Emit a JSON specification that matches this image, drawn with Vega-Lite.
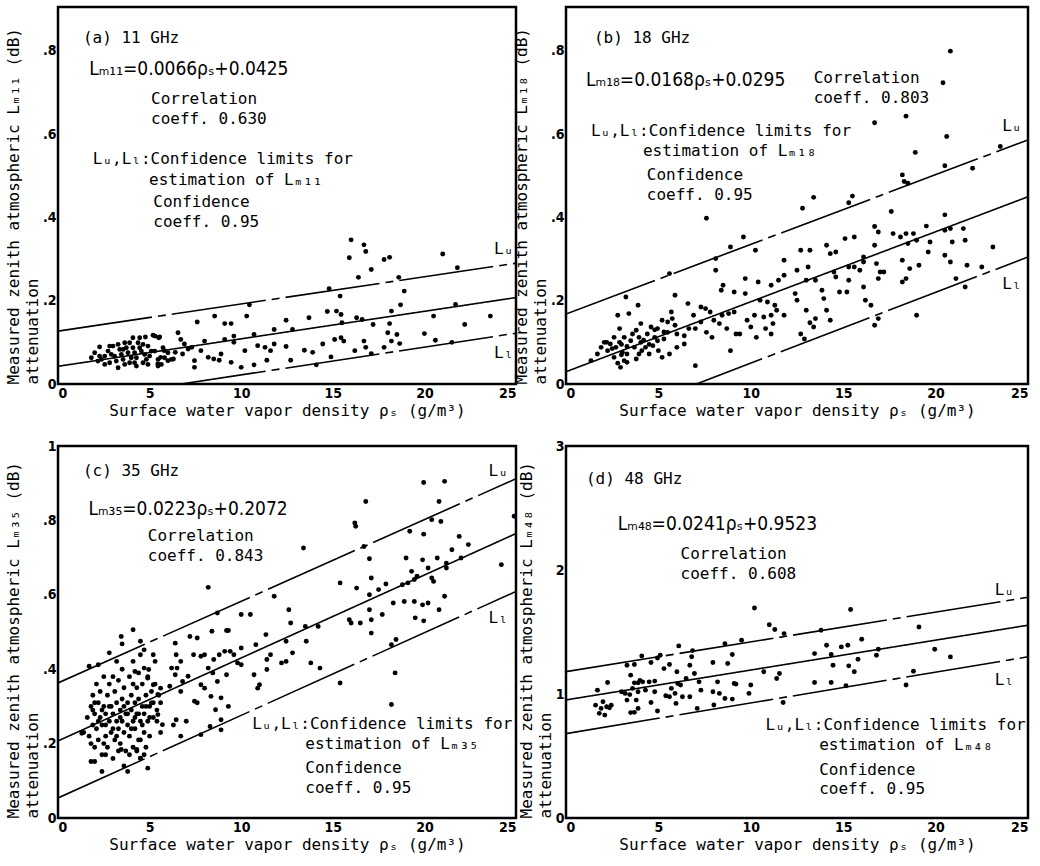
{
"$schema":"https://vega.github.io/schema/vega-lite/v6.json",
"background":"white",
"padding":{"left":4,"top":5,"right":4,"bottom":4},
"config":{
 "view":{"stroke":"black","strokeWidth":2.5},
 "axis":{"domain":false,"grid":false,"ticks":false,"labelColor":"black","labelFont":"DejaVu Sans Condensed","labelFontWeight":"bold","labelFontSize":14,"titleFont":"DejaVu Sans Mono","titleFontSize":16,"titleFontWeight":"normal","titleColor":"black"},
 "text":{"font":"DejaVu Sans Mono","fontSize":16,"color":"black"}
},
"datasets":{
"xt":[{"v":0,"l":"maj"},{"v":1,"l":"min"},{"v":2,"l":"min"},{"v":3,"l":"min"},{"v":4,"l":"min"},{"v":5,"l":"maj"},{"v":6,"l":"min"},{"v":7,"l":"min"},{"v":8,"l":"min"},{"v":9,"l":"min"},{"v":10,"l":"maj"},{"v":11,"l":"min"},{"v":12,"l":"min"},{"v":13,"l":"min"},{"v":14,"l":"min"},{"v":15,"l":"maj"},{"v":16,"l":"min"},{"v":17,"l":"min"},{"v":18,"l":"min"},{"v":19,"l":"min"},{"v":20,"l":"maj"},{"v":21,"l":"min"},{"v":22,"l":"min"},{"v":23,"l":"min"},{"v":24,"l":"min"},{"v":25,"l":"maj"}],
"yt":[
{"g":"ab","v":0,"l":"maj"},{"g":"ab","v":0.02,"l":"min"},{"g":"ab","v":0.04,"l":"min"},{"g":"ab","v":0.06,"l":"min"},{"g":"ab","v":0.08,"l":"min"},{"g":"ab","v":0.1,"l":"mid"},{"g":"ab","v":0.12,"l":"min"},{"g":"ab","v":0.14,"l":"min"},{"g":"ab","v":0.16,"l":"min"},{"g":"ab","v":0.18,"l":"min"},{"g":"ab","v":0.2,"l":"maj"},{"g":"ab","v":0.22,"l":"min"},{"g":"ab","v":0.24,"l":"min"},{"g":"ab","v":0.26,"l":"min"},{"g":"ab","v":0.28,"l":"min"},{"g":"ab","v":0.3,"l":"mid"},{"g":"ab","v":0.32,"l":"min"},{"g":"ab","v":0.34,"l":"min"},{"g":"ab","v":0.36,"l":"min"},{"g":"ab","v":0.38,"l":"min"},{"g":"ab","v":0.4,"l":"maj"},{"g":"ab","v":0.42,"l":"min"},{"g":"ab","v":0.44,"l":"min"},{"g":"ab","v":0.46,"l":"min"},{"g":"ab","v":0.48,"l":"min"},{"g":"ab","v":0.5,"l":"mid"},{"g":"ab","v":0.52,"l":"min"},{"g":"ab","v":0.54,"l":"min"},{"g":"ab","v":0.56,"l":"min"},{"g":"ab","v":0.58,"l":"min"},{"g":"ab","v":0.6,"l":"maj"},{"g":"ab","v":0.62,"l":"min"},{"g":"ab","v":0.64,"l":"min"},{"g":"ab","v":0.66,"l":"min"},{"g":"ab","v":0.68,"l":"min"},{"g":"ab","v":0.7,"l":"mid"},{"g":"ab","v":0.72,"l":"min"},{"g":"ab","v":0.74,"l":"min"},{"g":"ab","v":0.76,"l":"min"},{"g":"ab","v":0.78,"l":"min"},{"g":"ab","v":0.8,"l":"maj"},{"g":"ab","v":0.82,"l":"min"},{"g":"ab","v":0.84,"l":"min"},{"g":"ab","v":0.86,"l":"min"},{"g":"ab","v":0.88,"l":"min"},{"g":"ab","v":0.9,"l":"mid"},
{"g":"c","v":0,"l":"maj"},{"g":"c","v":0.02,"l":"min"},{"g":"c","v":0.04,"l":"min"},{"g":"c","v":0.06,"l":"min"},{"g":"c","v":0.08,"l":"min"},{"g":"c","v":0.1,"l":"mid"},{"g":"c","v":0.12,"l":"min"},{"g":"c","v":0.14,"l":"min"},{"g":"c","v":0.16,"l":"min"},{"g":"c","v":0.18,"l":"min"},{"g":"c","v":0.2,"l":"maj"},{"g":"c","v":0.22,"l":"min"},{"g":"c","v":0.24,"l":"min"},{"g":"c","v":0.26,"l":"min"},{"g":"c","v":0.28,"l":"min"},{"g":"c","v":0.3,"l":"mid"},{"g":"c","v":0.32,"l":"min"},{"g":"c","v":0.34,"l":"min"},{"g":"c","v":0.36,"l":"min"},{"g":"c","v":0.38,"l":"min"},{"g":"c","v":0.4,"l":"maj"},{"g":"c","v":0.42,"l":"min"},{"g":"c","v":0.44,"l":"min"},{"g":"c","v":0.46,"l":"min"},{"g":"c","v":0.48,"l":"min"},{"g":"c","v":0.5,"l":"mid"},{"g":"c","v":0.52,"l":"min"},{"g":"c","v":0.54,"l":"min"},{"g":"c","v":0.56,"l":"min"},{"g":"c","v":0.58,"l":"min"},{"g":"c","v":0.6,"l":"maj"},{"g":"c","v":0.62,"l":"min"},{"g":"c","v":0.64,"l":"min"},{"g":"c","v":0.66,"l":"min"},{"g":"c","v":0.68,"l":"min"},{"g":"c","v":0.7,"l":"mid"},{"g":"c","v":0.72,"l":"min"},{"g":"c","v":0.74,"l":"min"},{"g":"c","v":0.76,"l":"min"},{"g":"c","v":0.78,"l":"min"},{"g":"c","v":0.8,"l":"maj"},{"g":"c","v":0.82,"l":"min"},{"g":"c","v":0.84,"l":"min"},{"g":"c","v":0.86,"l":"min"},{"g":"c","v":0.88,"l":"min"},{"g":"c","v":0.9,"l":"mid"},{"g":"c","v":0.92,"l":"min"},{"g":"c","v":0.94,"l":"min"},{"g":"c","v":0.96,"l":"min"},{"g":"c","v":0.98,"l":"min"},{"g":"c","v":1,"l":"maj"},
{"g":"d","v":0,"l":"maj"},{"g":"d","v":0.1,"l":"min"},{"g":"d","v":0.2,"l":"min"},{"g":"d","v":0.3,"l":"min"},{"g":"d","v":0.4,"l":"min"},{"g":"d","v":0.5,"l":"mid"},{"g":"d","v":0.6,"l":"min"},{"g":"d","v":0.7,"l":"min"},{"g":"d","v":0.8,"l":"min"},{"g":"d","v":0.9,"l":"min"},{"g":"d","v":1,"l":"maj"},{"g":"d","v":1.1,"l":"min"},{"g":"d","v":1.2,"l":"min"},{"g":"d","v":1.3,"l":"min"},{"g":"d","v":1.4,"l":"min"},{"g":"d","v":1.5,"l":"mid"},{"g":"d","v":1.6,"l":"min"},{"g":"d","v":1.7,"l":"min"},{"g":"d","v":1.8,"l":"min"},{"g":"d","v":1.9,"l":"min"},{"g":"d","v":2,"l":"maj"},{"g":"d","v":2.1,"l":"min"},{"g":"d","v":2.2,"l":"min"},{"g":"d","v":2.3,"l":"min"},{"g":"d","v":2.4,"l":"min"},{"g":"d","v":2.5,"l":"mid"},{"g":"d","v":2.6,"l":"min"},{"g":"d","v":2.7,"l":"min"},{"g":"d","v":2.8,"l":"min"},{"g":"d","v":2.9,"l":"min"},{"g":"d","v":3,"l":"maj"}
],
"pts":[
{"p":"a","x":16.0,"y":0.346},{"p":"a","x":16.7,"y":0.334},{"p":"a","x":16.8,"y":0.318},{"p":"a","x":15.9,"y":0.303},{"p":"a","x":17.8,"y":0.299},{"p":"a","x":18.1,"y":0.304},{"p":"a","x":21.0,"y":0.312},{"p":"a","x":17.1,"y":0.275},{"p":"a","x":16.4,"y":0.256},{"p":"a","x":18.6,"y":0.256},{"p":"a","x":21.8,"y":0.279},{"p":"a","x":14.8,"y":0.229},{"p":"a","x":15.4,"y":0.211},{"p":"a","x":18.9,"y":0.223},{"p":"a","x":18.7,"y":0.19},{"p":"a","x":21.7,"y":0.191},{"p":"a","x":14.7,"y":0.174},{"p":"a","x":15.2,"y":0.175},{"p":"a","x":15.45,"y":0.167},{"p":"a","x":10.45,"y":0.19},{"p":"a","x":12.45,"y":0.153},{"p":"a","x":13.7,"y":0.159},{"p":"a","x":16.3,"y":0.159},{"p":"a","x":16.6,"y":0.155},{"p":"a","x":15.5,"y":0.147},{"p":"a","x":17.2,"y":0.143},{"p":"a","x":18.2,"y":0.175},{"p":"a","x":18.1,"y":0.145},{"p":"a","x":20.5,"y":0.163},{"p":"a","x":23.6,"y":0.163},{"p":"a","x":22.2,"y":0.143},{"p":"a","x":20.0,"y":0.121},{"p":"a","x":20.6,"y":0.105},{"p":"a","x":21.5,"y":0.1},{"p":"a","x":18.0,"y":0.123},{"p":"a","x":18.5,"y":0.119},{"p":"a","x":18.2,"y":0.103},{"p":"a","x":18.65,"y":0.097},{"p":"a","x":17.8,"y":0.088},{"p":"a","x":17.1,"y":0.073},{"p":"a","x":16.7,"y":0.103},{"p":"a","x":16.8,"y":0.088},{"p":"a","x":16.2,"y":0.08},{"p":"a","x":15.45,"y":0.111},{"p":"a","x":15.6,"y":0.103},{"p":"a","x":15.1,"y":0.107},{"p":"a","x":14.9,"y":0.065},{"p":"a","x":14.45,"y":0.096},{"p":"a","x":14.1,"y":0.046},{"p":"a","x":13.9,"y":0.076},{"p":"a","x":13.45,"y":0.081},{"p":"a","x":12.7,"y":0.057},{"p":"a","x":12.8,"y":0.131},{"p":"a","x":12.45,"y":0.09},{"p":"a","x":11.8,"y":0.131},{"p":"a","x":11.8,"y":0.096},{"p":"a","x":11.6,"y":0.08},{"p":"a","x":11.4,"y":0.057},{"p":"a","x":10.7,"y":0.119},{"p":"a","x":10.9,"y":0.092},{"p":"a","x":11.3,"y":0.088},{"p":"a","x":10.7,"y":0.046},{"p":"a","x":10.3,"y":0.163},{"p":"a","x":10.2,"y":0.08},{"p":"a","x":10.0,"y":0.04},{"p":"a","x":9.6,"y":0.115},{"p":"a","x":9.6,"y":0.1},{"p":"a","x":9.45,"y":0.145},{"p":"a","x":9.1,"y":0.145},{"p":"a","x":8.55,"y":0.163},{"p":"a","x":7.6,"y":0.149},{"p":"a","x":9.1,"y":0.107},{"p":"a","x":9.45,"y":0.052},{"p":"a","x":8.9,"y":0.072},{"p":"a","x":8.5,"y":0.06},{"p":"a","x":8.2,"y":0.064},{"p":"a","x":8.8,"y":0.057},{"p":"a","x":8.0,"y":0.103},{"p":"a","x":7.8,"y":0.08},{"p":"a","x":7.45,"y":0.056},{"p":"a","x":7.45,"y":0.04},{"p":"a","x":6.9,"y":0.096},{"p":"a","x":7.1,"y":0.084},{"p":"a","x":7.3,"y":0.088},{"p":"a","x":6.8,"y":0.072},{"p":"a","x":6.55,"y":0.123},{"p":"a","x":6.7,"y":0.107},{"p":"a","x":6.4,"y":0.076},{"p":"a","x":6.3,"y":0.06},{"p":"a","x":5.8,"y":0.08},{"p":"a","x":5.6,"y":0.064},{"p":"a","x":5.45,"y":0.048},{"p":"a","x":6.0,"y":0.056},{"p":"a","x":5.3,"y":0.115},{"p":"a","x":5.5,"y":0.111},
{"p":"a","x":1.82,"y":0.063},{"p":"a","x":2.27,"y":0.089},{"p":"a","x":2.37,"y":0.059},{"p":"a","x":2.73,"y":0.079},{"p":"a","x":2.82,"y":0.051},{"p":"a","x":3.0,"y":0.091},{"p":"a","x":3.09,"y":0.067},{"p":"a","x":3.28,"y":0.039},{"p":"a","x":3.37,"y":0.083},{"p":"a","x":3.55,"y":0.059},{"p":"a","x":3.64,"y":0.099},{"p":"a","x":3.82,"y":0.075},{"p":"a","x":3.91,"y":0.051},{"p":"a","x":4.09,"y":0.111},{"p":"a","x":4.09,"y":0.087},{"p":"a","x":4.28,"y":0.063},{"p":"a","x":4.37,"y":0.099},{"p":"a","x":4.55,"y":0.079},{"p":"a","x":4.64,"y":0.051},{"p":"a","x":4.77,"y":0.113},{"p":"a","x":4.91,"y":0.091},{"p":"a","x":5.0,"y":0.067},{"p":"a","x":5.19,"y":0.117},{"p":"a","x":5.28,"y":0.079},{"p":"a","x":5.46,"y":0.059},{"p":"a","x":5.55,"y":0.113},{"p":"a","x":5.73,"y":0.087},{"p":"a","x":5.82,"y":0.063},{"p":"a","x":6.0,"y":0.075},{"p":"a","x":6.19,"y":0.059},{"p":"a","x":2.0,"y":0.075},{"p":"a","x":2.55,"y":0.067},{"p":"a","x":2.91,"y":0.071},{"p":"a","x":3.46,"y":0.071},{"p":"a","x":3.73,"y":0.087},{"p":"a","x":4.0,"y":0.063},{"p":"a","x":4.18,"y":0.075},{"p":"a","x":4.46,"y":0.087},{"p":"a","x":4.73,"y":0.071},{"p":"a","x":4.82,"y":0.059},{"p":"a","x":5.09,"y":0.079},{"p":"a","x":3.28,"y":0.095},{"p":"a","x":3.91,"y":0.099},{"p":"a","x":4.46,"y":0.111},{"p":"a","x":2.55,"y":0.047},{"p":"a","x":3.64,"y":0.047},{"p":"a","x":4.28,"y":0.043},{"p":"a","x":2.18,"y":0.055},{"p":"a","x":5.46,"y":0.043},{"p":"a","x":5.64,"y":0.047},{"p":"a","x":3.18,"y":0.055},{"p":"a","x":4.64,"y":0.095},{"p":"a","x":3.55,"y":0.083},{"p":"a","x":4.18,"y":0.051},{"p":"a","x":4.91,"y":0.047},{"p":"a","x":2.82,"y":0.091},{"p":"a","x":2.27,"y":0.067},
{"p":"b","x":20.8,"y":0.799},{"p":"b","x":20.4,"y":0.723},{"p":"b","x":16.7,"y":0.627},{"p":"b","x":18.4,"y":0.643},{"p":"b","x":20.6,"y":0.594},{"p":"b","x":18.9,"y":0.556},{"p":"b","x":23.5,"y":0.57},{"p":"b","x":20.5,"y":0.524},{"p":"b","x":22.0,"y":0.518},{"p":"b","x":18.2,"y":0.502},{"p":"b","x":18.3,"y":0.486},{"p":"b","x":18.5,"y":0.482},{"p":"b","x":15.5,"y":0.451},{"p":"b","x":15.3,"y":0.435},{"p":"b","x":13.4,"y":0.448},{"p":"b","x":12.8,"y":0.422},{"p":"b","x":7.6,"y":0.398},{"p":"b","x":17.6,"y":0.414},{"p":"b","x":20.5,"y":0.406},{"p":"b","x":16.7,"y":0.378},{"p":"b","x":16.9,"y":0.365},{"p":"b","x":17.7,"y":0.361},{"p":"b","x":18.1,"y":0.353},{"p":"b","x":18.4,"y":0.361},{"p":"b","x":18.8,"y":0.361},{"p":"b","x":18.97,"y":0.345},{"p":"b","x":18.5,"y":0.337},{"p":"b","x":19.5,"y":0.379},{"p":"b","x":20.5,"y":0.369},{"p":"b","x":20.8,"y":0.373},{"p":"b","x":20.9,"y":0.341},{"p":"b","x":21.5,"y":0.373},{"p":"b","x":21.6,"y":0.345},{"p":"b","x":19.7,"y":0.341},{"p":"b","x":23.1,"y":0.329},{"p":"b","x":19.6,"y":0.317},{"p":"b","x":20.5,"y":0.309},{"p":"b","x":20.8,"y":0.293},{"p":"b","x":21.7,"y":0.285},{"p":"b","x":22.5,"y":0.281},{"p":"b","x":18.2,"y":0.297},{"p":"b","x":19.1,"y":0.285},{"p":"b","x":18.6,"y":0.277},{"p":"b","x":21.1,"y":0.253},{"p":"b","x":21.6,"y":0.233},{"p":"b","x":18.4,"y":0.253},{"p":"b","x":18.2,"y":0.245},{"p":"b","x":18.97,"y":0.165},{"p":"b","x":16.7,"y":0.141},{"p":"b","x":16.9,"y":0.157},{"p":"b","x":16.5,"y":0.189},{"p":"b","x":16.2,"y":0.201},{"p":"b","x":16.1,"y":0.233},{"p":"b","x":16.8,"y":0.289},{"p":"b","x":17.0,"y":0.269},{"p":"b","x":17.2,"y":0.269},{"p":"b","x":16.9,"y":0.253},{"p":"b","x":15.9,"y":0.273},{"p":"b","x":16.1,"y":0.293},{"p":"b","x":15.6,"y":0.281},{"p":"b","x":15.3,"y":0.281},{"p":"b","x":14.8,"y":0.221},{"p":"b","x":15.2,"y":0.221},{"p":"b","x":15.3,"y":0.249},{"p":"b","x":14.6,"y":0.257},{"p":"b","x":14.5,"y":0.269},{"p":"b","x":14.3,"y":0.313},{"p":"b","x":14.6,"y":0.317},{"p":"b","x":14.1,"y":0.333},{"p":"b","x":15.1,"y":0.349},{"p":"b","x":15.6,"y":0.353},{"p":"b","x":16.7,"y":0.333},{"p":"b","x":16.1,"y":0.305},{"p":"b","x":13.2,"y":0.321},{"p":"b","x":12.7,"y":0.321},{"p":"b","x":13.1,"y":0.281},{"p":"b","x":12.5,"y":0.273},{"p":"b","x":13.0,"y":0.249},{"p":"b","x":13.5,"y":0.249},{"p":"b","x":13.85,"y":0.225},{"p":"b","x":13.95,"y":0.205},{"p":"b","x":14.1,"y":0.177},{"p":"b","x":14.3,"y":0.153},{"p":"b","x":13.5,"y":0.157},{"p":"b","x":13.4,"y":0.137},{"p":"b","x":13.2,"y":0.147},{"p":"b","x":12.7,"y":0.12},{"p":"b","x":12.9,"y":0.108},{"p":"b","x":13.0,"y":0.177},{"p":"b","x":12.4,"y":0.217},{"p":"b","x":12.5,"y":0.201},{"p":"b","x":11.8,"y":0.297},{"p":"b","x":11.8,"y":0.261},{"p":"b","x":11.5,"y":0.249},{"p":"b","x":11.1,"y":0.237},{"p":"b","x":10.25,"y":0.321},{"p":"b","x":9.6,"y":0.353},{"p":"b","x":9.7,"y":0.253},{"p":"b","x":10.4,"y":0.245},{"p":"b","x":8.9,"y":0.329},{"p":"b","x":8.1,"y":0.301},{"p":"b","x":8.1,"y":0.273},{"p":"b","x":8.5,"y":0.237},{"p":"b","x":8.4,"y":0.225},{"p":"b","x":9.1,"y":0.221},{"p":"b","x":9.7,"y":0.217},{"p":"b","x":10.5,"y":0.201},{"p":"b","x":10.9,"y":0.197},{"p":"b","x":11.3,"y":0.189},{"p":"b","x":11.4,"y":0.177},{"p":"b","x":11.8,"y":0.165},{"p":"b","x":11.1,"y":0.165},{"p":"b","x":11.2,"y":0.145},{"p":"b","x":10.7,"y":0.161},{"p":"b","x":10.2,"y":0.165},{"p":"b","x":9.8,"y":0.153},{"p":"b","x":10.0,"y":0.137},{"p":"b","x":10.8,"y":0.133},{"p":"b","x":11.1,"y":0.12},{"p":"b","x":10.3,"y":0.112},{"p":"b","x":9.4,"y":0.12},{"p":"b","x":9.2,"y":0.12},{"p":"b","x":8.9,"y":0.08},{"p":"b","x":8.7,"y":0.133},{"p":"b","x":9.1,"y":0.173},{"p":"b","x":8.8,"y":0.169},{"p":"b","x":8.45,"y":0.165},{"p":"b","x":7.8,"y":0.173},{"p":"b","x":7.55,"y":0.181},{"p":"b","x":7.3,"y":0.185},{"p":"b","x":8.0,"y":0.153},{"p":"b","x":8.3,"y":0.145},{"p":"b","x":7.6,"y":0.124},{"p":"b","x":7.9,"y":0.112},{"p":"b","x":7.3,"y":0.149},{"p":"b","x":7.0,"y":0.133},{"p":"b","x":7.0,"y":0.044},{"p":"b","x":6.6,"y":0.193},{"p":"b","x":6.9,"y":0.165},{"p":"b","x":6.65,"y":0.133},{"p":"b","x":6.4,"y":0.116},{"p":"b","x":5.9,"y":0.213},{"p":"b","x":5.7,"y":0.173},{"p":"b","x":5.75,"y":0.157},{"p":"b","x":5.6,"y":0.265},{"p":"b","x":5.9,"y":0.141},{"p":"b","x":6.0,"y":0.12},{"p":"b","x":5.5,"y":0.124},{"p":"b","x":5.3,"y":0.108},{"p":"b","x":5.2,"y":0.153},{"p":"b","x":4.95,"y":0.133},{"p":"b","x":4.8,"y":0.112},{"p":"b","x":4.7,"y":0.092},{"p":"b","x":4.6,"y":0.137},{"p":"b","x":4.4,"y":0.12},{"p":"b","x":5.0,"y":0.08},{"p":"b","x":4.3,"y":0.088},{"p":"b","x":4.05,"y":0.145},{"p":"b","x":3.8,"y":0.129},{"p":"b","x":3.95,"y":0.112},{"p":"b","x":3.5,"y":0.104},{"p":"b","x":3.7,"y":0.088},{"p":"b","x":3.3,"y":0.072},{"p":"b","x":3.15,"y":0.056},{"p":"b","x":2.95,"y":0.04},{"p":"b","x":3.05,"y":0.076},{"p":"b","x":2.9,"y":0.133},{"p":"b","x":2.8,"y":0.165},{"p":"b","x":3.24,"y":0.209},{"p":"b","x":3.9,"y":0.189},{"p":"b","x":3.4,"y":0.169},{"p":"b","x":2.6,"y":0.112},{"p":"b","x":2.4,"y":0.096},{"p":"b","x":2.25,"y":0.08},{"p":"b","x":2.07,"y":0.1},{"p":"b","x":1.9,"y":0.088},{"p":"b","x":1.7,"y":0.072},{"p":"b","x":1.35,"y":0.056},{"p":"b","x":2.7,"y":0.088},{"p":"b","x":2.9,"y":0.1},{"p":"b","x":3.15,"y":0.112},{"p":"b","x":2.6,"y":0.064},{"p":"b","x":3.3,"y":0.052},{"p":"b","x":3.95,"y":0.072},{"p":"b","x":4.5,"y":0.072},{"p":"b","x":5.2,"y":0.064},{"p":"b","x":5.6,"y":0.072},{"p":"b","x":6.0,"y":0.088},{"p":"b","x":6.4,"y":0.096},{"p":"b","x":4.05,"y":0.1},{"p":"b","x":4.95,"y":0.104},{"p":"b","x":5.5,"y":0.149},{"p":"b","x":2.2,"y":0.1},{"p":"b","x":2.5,"y":0.085},{"p":"b","x":3.0,"y":0.095},{"p":"b","x":3.3,"y":0.09},{"p":"b","x":3.6,"y":0.12},{"p":"b","x":4.2,"y":0.105},{"p":"b","x":4.5,"y":0.095},{"p":"b","x":4.8,"y":0.13},{"p":"b","x":5.3,"y":0.125},{"p":"b","x":3.0,"y":0.07},{"p":"b","x":2.8,"y":0.05},{"p":"b","x":3.8,"y":0.06},{"p":"b","x":4.1,"y":0.08},
{"p":"c","x":19.96,"y":0.902},{"p":"c","x":21.1,"y":0.905},{"p":"c","x":16.8,"y":0.851},{"p":"c","x":20.8,"y":0.851},{"p":"c","x":16.2,"y":0.793},{"p":"c","x":16.25,"y":0.784},{"p":"c","x":20.4,"y":0.802},{"p":"c","x":20.9,"y":0.797},{"p":"c","x":24.9,"y":0.811},{"p":"c","x":16.7,"y":0.73},{"p":"c","x":13.4,"y":0.726},{"p":"c","x":19.2,"y":0.771},{"p":"c","x":19.96,"y":0.763},{"p":"c","x":21.9,"y":0.757},{"p":"c","x":22.4,"y":0.735},{"p":"c","x":21.5,"y":0.721},{"p":"c","x":17.0,"y":0.697},{"p":"c","x":19.0,"y":0.699},{"p":"c","x":19.9,"y":0.694},{"p":"c","x":20.7,"y":0.699},{"p":"c","x":21.2,"y":0.685},{"p":"c","x":22.0,"y":0.699},{"p":"c","x":24.2,"y":0.681},{"p":"c","x":19.3,"y":0.663},{"p":"c","x":20.2,"y":0.672},{"p":"c","x":21.2,"y":0.672},{"p":"c","x":17.1,"y":0.645},{"p":"c","x":19.6,"y":0.65},{"p":"c","x":20.4,"y":0.645},{"p":"c","x":15.4,"y":0.632},{"p":"c","x":16.3,"y":0.618},{"p":"c","x":17.9,"y":0.629},{"p":"c","x":17.5,"y":0.614},{"p":"c","x":17.0,"y":0.6},{"p":"c","x":18.8,"y":0.627},{"p":"c","x":19.1,"y":0.632},{"p":"c","x":19.45,"y":0.641},{"p":"c","x":20.5,"y":0.636},{"p":"c","x":18.9,"y":0.582},{"p":"c","x":19.45,"y":0.582},{"p":"c","x":21.1,"y":0.596},{"p":"c","x":18.3,"y":0.578},{"p":"c","x":19.9,"y":0.573},{"p":"c","x":20.2,"y":0.578},{"p":"c","x":20.8,"y":0.56},{"p":"c","x":17.0,"y":0.56},{"p":"c","x":17.7,"y":0.547},{"p":"c","x":19.5,"y":0.538},{"p":"c","x":19.96,"y":0.53},{"p":"c","x":15.9,"y":0.533},{"p":"c","x":16.0,"y":0.524},{"p":"c","x":16.5,"y":0.524},{"p":"c","x":17.1,"y":0.533},{"p":"c","x":17.1,"y":0.497},{"p":"c","x":11.8,"y":0.596},{"p":"c","x":12.6,"y":0.56},{"p":"c","x":12.7,"y":0.524},{"p":"c","x":10.0,"y":0.547},{"p":"c","x":10.5,"y":0.547},{"p":"c","x":8.2,"y":0.62},{"p":"c","x":8.7,"y":0.551},{"p":"c","x":9.2,"y":0.504},{"p":"c","x":9.3,"y":0.504},{"p":"c","x":8.4,"y":0.502},{"p":"c","x":13.5,"y":0.515},{"p":"c","x":14.2,"y":0.515},{"p":"c","x":13.55,"y":0.475},{"p":"c","x":11.35,"y":0.493},{"p":"c","x":10.8,"y":0.466},{"p":"c","x":10.0,"y":0.457},{"p":"c","x":9.6,"y":0.439},{"p":"c","x":12.45,"y":0.475},{"p":"c","x":12.8,"y":0.444},{"p":"c","x":13.8,"y":0.417},{"p":"c","x":14.3,"y":0.403},{"p":"c","x":12.45,"y":0.421},{"p":"c","x":12.2,"y":0.417},{"p":"c","x":11.6,"y":0.439},{"p":"c","x":11.4,"y":0.426},{"p":"c","x":11.4,"y":0.399},{"p":"c","x":10.7,"y":0.385},{"p":"c","x":10.9,"y":0.349},{"p":"c","x":11.0,"y":0.358},{"p":"c","x":10.0,"y":0.412},{"p":"c","x":9.8,"y":0.417},{"p":"c","x":9.2,"y":0.385},{"p":"c","x":9.4,"y":0.448},{"p":"c","x":9.1,"y":0.448},{"p":"c","x":8.8,"y":0.439},{"p":"c","x":8.5,"y":0.426},{"p":"c","x":8.0,"y":0.439},{"p":"c","x":7.8,"y":0.435},{"p":"c","x":7.6,"y":0.484},{"p":"c","x":7.2,"y":0.488},{"p":"c","x":7.4,"y":0.439},{"p":"c","x":8.2,"y":0.403},{"p":"c","x":8.45,"y":0.39},{"p":"c","x":8.7,"y":0.367},{"p":"c","x":7.8,"y":0.358},{"p":"c","x":8.0,"y":0.349},{"p":"c","x":7.1,"y":0.381},{"p":"c","x":7.45,"y":0.314},{"p":"c","x":7.6,"y":0.31},{"p":"c","x":8.35,"y":0.327},{"p":"c","x":8.9,"y":0.323},{"p":"c","x":8.6,"y":0.291},{"p":"c","x":8.9,"y":0.264},{"p":"c","x":9.3,"y":0.3},{"p":"c","x":6.4,"y":0.47},{"p":"c","x":6.7,"y":0.421},{"p":"c","x":6.5,"y":0.403},{"p":"c","x":6.4,"y":0.385},{"p":"c","x":6.8,"y":0.367},{"p":"c","x":6.1,"y":0.354},{"p":"c","x":6.45,"y":0.439},{"p":"c","x":6.2,"y":0.403},{"p":"c","x":6.7,"y":0.34},{"p":"c","x":7.0,"y":0.26},{"p":"c","x":6.45,"y":0.264},{"p":"c","x":6.3,"y":0.25},{"p":"c","x":5.7,"y":0.251},{"p":"c","x":5.6,"y":0.23},{"p":"c","x":5.4,"y":0.26},{"p":"c","x":5.45,"y":0.278},{"p":"c","x":5.1,"y":0.309},{"p":"c","x":5.45,"y":0.332},{"p":"c","x":5.6,"y":0.349},{"p":"c","x":5.2,"y":0.358},{"p":"c","x":4.9,"y":0.376},{"p":"c","x":4.7,"y":0.403},{"p":"c","x":4.95,"y":0.399},{"p":"c","x":4.7,"y":0.452},{"p":"c","x":4.5,"y":0.475},{"p":"c","x":5.2,"y":0.439},{"p":"c","x":5.3,"y":0.421},{"p":"c","x":4.5,"y":0.439},{"p":"c","x":4.1,"y":0.421},{"p":"c","x":4.2,"y":0.394},{"p":"c","x":4.1,"y":0.506},{"p":"c","x":3.45,"y":0.488},{"p":"c","x":3.5,"y":0.468},{"p":"c","x":2.8,"y":0.444},{"p":"c","x":3.2,"y":0.421},{"p":"c","x":2.2,"y":0.412},{"p":"c","x":1.7,"y":0.408},{"p":"c","x":1.3,"y":0.228},{"p":"c","x":2.4,"y":0.125},{"p":"c","x":1.8,"y":0.152},{"p":"c","x":2.0,"y":0.152},{"p":"c","x":2.6,"y":0.17},{"p":"c","x":3.8,"y":0.125},{"p":"c","x":4.9,"y":0.134},{"p":"c","x":4.5,"y":0.161},{"p":"c","x":4.7,"y":0.17},{"p":"c","x":4.3,"y":0.184},{"p":"c","x":3.45,"y":0.184},{"p":"c","x":6.7,"y":0.22},{"p":"c","x":7.8,"y":0.224},{"p":"c","x":8.3,"y":0.246},{"p":"c","x":8.9,"y":0.237},{"p":"c","x":18.4,"y":0.39},{"p":"c","x":18.2,"y":0.305},{"p":"c","x":18.2,"y":0.466},{"p":"c","x":18.45,"y":0.48},{"p":"c","x":15.4,"y":0.363},
{"p":"c","x":1.6,"y":0.27},{"p":"c","x":1.7,"y":0.22},{"p":"c","x":1.8,"y":0.30},{"p":"c","x":1.9,"y":0.25},{"p":"c","x":1.9,"y":0.33},{"p":"c","x":2.0,"y":0.19},{"p":"c","x":2.0,"y":0.28},{"p":"c","x":2.1,"y":0.36},{"p":"c","x":2.1,"y":0.24},{"p":"c","x":2.2,"y":0.31},{"p":"c","x":2.2,"y":0.21},{"p":"c","x":2.3,"y":0.27},{"p":"c","x":2.3,"y":0.34},{"p":"c","x":2.4,"y":0.17},{"p":"c","x":2.4,"y":0.25},{"p":"c","x":2.5,"y":0.30},{"p":"c","x":2.5,"y":0.38},{"p":"c","x":2.6,"y":0.22},{"p":"c","x":2.6,"y":0.28},{"p":"c","x":2.7,"y":0.33},{"p":"c","x":2.7,"y":0.19},{"p":"c","x":2.8,"y":0.26},{"p":"c","x":2.8,"y":0.36},{"p":"c","x":2.9,"y":0.23},{"p":"c","x":2.9,"y":0.30},{"p":"c","x":3.0,"y":0.28},{"p":"c","x":3.0,"y":0.16},{"p":"c","x":3.1,"y":0.34},{"p":"c","x":3.1,"y":0.21},{"p":"c","x":3.2,"y":0.26},{"p":"c","x":3.2,"y":0.31},{"p":"c","x":3.3,"y":0.24},{"p":"c","x":3.3,"y":0.37},{"p":"c","x":3.4,"y":0.29},{"p":"c","x":3.4,"y":0.20},{"p":"c","x":3.5,"y":0.32},{"p":"c","x":3.5,"y":0.26},{"p":"c","x":3.6,"y":0.23},{"p":"c","x":3.6,"y":0.35},{"p":"c","x":3.7,"y":0.28},{"p":"c","x":3.7,"y":0.18},{"p":"c","x":3.8,"y":0.31},{"p":"c","x":3.8,"y":0.25},{"p":"c","x":3.9,"y":0.38},{"p":"c","x":3.9,"y":0.22},{"p":"c","x":4.0,"y":0.29},{"p":"c","x":4.0,"y":0.33},{"p":"c","x":4.1,"y":0.26},{"p":"c","x":4.1,"y":0.19},{"p":"c","x":4.2,"y":0.31},{"p":"c","x":4.2,"y":0.24},{"p":"c","x":4.3,"y":0.35},{"p":"c","x":4.3,"y":0.28},{"p":"c","x":4.4,"y":0.21},{"p":"c","x":4.4,"y":0.32},{"p":"c","x":4.5,"y":0.26},{"p":"c","x":4.5,"y":0.16},{"p":"c","x":4.6,"y":0.30},{"p":"c","x":4.6,"y":0.36},{"p":"c","x":4.7,"y":0.23},{"p":"c","x":4.7,"y":0.28},{"p":"c","x":4.8,"y":0.33},{"p":"c","x":4.8,"y":0.19},{"p":"c","x":4.9,"y":0.26},{"p":"c","x":4.9,"y":0.38},{"p":"c","x":5.0,"y":0.30},{"p":"c","x":5.0,"y":0.22},{"p":"c","x":5.1,"y":0.34},{"p":"c","x":5.2,"y":0.27},{"p":"c","x":5.2,"y":0.31},{"p":"c","x":5.3,"y":0.36},{"p":"c","x":5.4,"y":0.29},{"p":"c","x":5.5,"y":0.33},{"p":"c","x":5.6,"y":0.31},{"p":"c","x":2.2,"y":0.26},{"p":"c","x":2.6,"y":0.25},{"p":"c","x":3.0,"y":0.24},{"p":"c","x":3.4,"y":0.27},{"p":"c","x":3.8,"y":0.28},{"p":"c","x":4.2,"y":0.27},{"p":"c","x":4.6,"y":0.25},{"p":"c","x":2.4,"y":0.29},{"p":"c","x":2.8,"y":0.30},{"p":"c","x":3.2,"y":0.22},{"p":"c","x":3.6,"y":0.30},{"p":"c","x":4.0,"y":0.24},{"p":"c","x":4.4,"y":0.28},{"p":"c","x":1.4,"y":0.23},{"p":"c","x":1.8,"y":0.20},{"p":"c","x":3.0,"y":0.38},{"p":"c","x":3.5,"y":0.40},{"p":"c","x":4.1,"y":0.36},{"p":"c","x":4.4,"y":0.39},{"p":"c","x":2.0,"y":0.31},{"p":"c","x":1.9,"y":0.29},{"p":"c","x":4.8,"y":0.30},{"p":"c","x":5.0,"y":0.27},{"p":"c","x":4.3,"y":0.18},{"p":"c","x":3.9,"y":0.17},{"p":"c","x":3.3,"y":0.18},{"p":"c","x":2.5,"y":0.20},{"p":"c","x":3.6,"y":0.14},{"p":"c","x":4.5,"y":0.21},
{"p":"d","x":10.2,"y":1.693},{"p":"d","x":15.4,"y":1.682},{"p":"d","x":11.0,"y":1.559},{"p":"d","x":11.3,"y":1.52},{"p":"d","x":11.8,"y":1.487},{"p":"d","x":19.1,"y":1.54},{"p":"d","x":13.8,"y":1.514},{"p":"d","x":16.0,"y":1.441},{"p":"d","x":6.1,"y":1.388},{"p":"d","x":8.6,"y":1.406},{"p":"d","x":9.5,"y":1.433},{"p":"d","x":14.1,"y":1.393},{"p":"d","x":14.9,"y":1.38},{"p":"d","x":15.25,"y":1.393},{"p":"d","x":16.9,"y":1.361},{"p":"d","x":19.95,"y":1.361},{"p":"d","x":13.45,"y":1.326},{"p":"d","x":14.35,"y":1.318},{"p":"d","x":20.8,"y":1.299},{"p":"d","x":16.8,"y":1.313},{"p":"d","x":15.8,"y":1.28},{"p":"d","x":9.0,"y":1.318},{"p":"d","x":6.8,"y":1.3},{"p":"d","x":6.85,"y":1.35},{"p":"d","x":7.95,"y":1.254},{"p":"d","x":8.75,"y":1.246},{"p":"d","x":4.1,"y":1.307},{"p":"d","x":5.1,"y":1.313},{"p":"d","x":4.95,"y":1.29},{"p":"d","x":4.6,"y":1.254},{"p":"d","x":3.7,"y":1.238},{"p":"d","x":3.3,"y":1.232},{"p":"d","x":5.3,"y":1.205},{"p":"d","x":5.6,"y":1.238},{"p":"d","x":6.0,"y":1.179},{"p":"d","x":6.7,"y":1.232},{"p":"d","x":6.95,"y":1.165},{"p":"d","x":14.45,"y":1.232},{"p":"d","x":15.3,"y":1.227},{"p":"d","x":15.6,"y":1.179},{"p":"d","x":10.7,"y":1.179},{"p":"d","x":11.55,"y":1.165},{"p":"d","x":18.8,"y":1.184},{"p":"d","x":2.25,"y":1.093},{"p":"d","x":1.7,"y":1.031},{"p":"d","x":1.9,"y":0.884},{"p":"d","x":2.0,"y":0.938},{"p":"d","x":2.2,"y":0.897},{"p":"d","x":2.35,"y":0.889},{"p":"d","x":1.6,"y":0.91},{"p":"d","x":1.8,"y":0.844},{"p":"d","x":2.1,"y":0.83},{"p":"d","x":2.45,"y":0.91},{"p":"d","x":3.0,"y":1.018},{"p":"d","x":3.2,"y":1.005},{"p":"d","x":3.45,"y":0.995},{"p":"d","x":3.5,"y":1.152},{"p":"d","x":3.7,"y":1.09},{"p":"d","x":3.9,"y":1.09},{"p":"d","x":4.0,"y":1.11},{"p":"d","x":4.15,"y":1.098},{"p":"d","x":4.5,"y":1.098},{"p":"d","x":4.8,"y":1.104},{"p":"d","x":3.6,"y":1.045},{"p":"d","x":3.9,"y":1.018},{"p":"d","x":4.3,"y":1.031},{"p":"d","x":4.8,"y":1.018},{"p":"d","x":3.8,"y":0.951},{"p":"d","x":3.3,"y":0.951},{"p":"d","x":3.7,"y":0.852},{"p":"d","x":3.5,"y":0.85},{"p":"d","x":3.9,"y":0.884},{"p":"d","x":4.6,"y":0.932},{"p":"d","x":4.95,"y":0.863},{"p":"d","x":5.4,"y":0.986},{"p":"d","x":5.7,"y":1.045},{"p":"d","x":5.9,"y":1.005},{"p":"d","x":5.6,"y":0.978},{"p":"d","x":5.95,"y":0.924},{"p":"d","x":6.05,"y":1.085},{"p":"d","x":6.2,"y":1.072},{"p":"d","x":6.3,"y":0.978},{"p":"d","x":6.5,"y":1.125},{"p":"d","x":6.7,"y":0.978},{"p":"d","x":7.3,"y":1.031},{"p":"d","x":7.2,"y":1.098},{"p":"d","x":7.1,"y":0.884},{"p":"d","x":8.0,"y":0.911},{"p":"d","x":7.95,"y":1.018},{"p":"d","x":8.2,"y":1.098},{"p":"d","x":8.3,"y":1.005},{"p":"d","x":8.6,"y":0.964},{"p":"d","x":9.0,"y":0.959},{"p":"d","x":9.1,"y":1.085},{"p":"d","x":9.2,"y":1.08},{"p":"d","x":10.0,"y":1.072},{"p":"d","x":9.9,"y":1.005},{"p":"d","x":11.4,"y":1.125},{"p":"d","x":11.75,"y":0.932},{"p":"d","x":13.45,"y":1.093},{"p":"d","x":14.35,"y":1.093},{"p":"d","x":15.15,"y":1.066},{"p":"d","x":18.4,"y":1.072}
],
"lines":[
{"p":"a","k":"c","x":0,"y":0.0425},{"p":"a","k":"c","x":25,"y":0.2075},{"p":"a","k":"u","x":0,"y":0.127},{"p":"a","k":"u","x":25,"y":0.29},{"p":"a","k":"l","x":0,"y":-0.045},{"p":"a","k":"l","x":25,"y":0.122},
{"p":"b","k":"c","x":0,"y":0.0295},{"p":"b","k":"c","x":25,"y":0.4495},{"p":"b","k":"u","x":0,"y":0.168},{"p":"b","k":"u","x":25,"y":0.586},{"p":"b","k":"l","x":0,"y":-0.12},{"p":"b","k":"l","x":25,"y":0.305},
{"p":"c","k":"c","x":0,"y":0.2072},{"p":"c","k":"c","x":25,"y":0.7647},{"p":"c","k":"u","x":0,"y":0.363},{"p":"c","k":"u","x":25,"y":0.912},{"p":"c","k":"l","x":0,"y":0.054},{"p":"c","k":"l","x":25,"y":0.609},
{"p":"d","k":"c","x":0,"y":0.9523},{"p":"d","k":"c","x":25,"y":1.5548},{"p":"d","k":"u","x":0,"y":1.18},{"p":"d","k":"u","x":25,"y":1.78},{"p":"d","k":"l","x":0,"y":0.68},{"p":"d","k":"l","x":25,"y":1.30}
],
"notes":[
{"p":"a","k":"t","x":1.36,"y":0.83,"t":"(a) 11 GHz"},{"p":"a","k":"e","x":1.7,"y":0.755,"t":"Lₘ₁₁=0.0066ρₛ+0.0425"},{"p":"a","k":"t","x":5.08,"y":0.683,"t":"Correlation"},{"p":"a","k":"t","x":5.08,"y":0.635,"t":"coeff. 0.630"},{"p":"a","k":"t","x":1.9,"y":0.54,"t":"Lᵤ,Lₗ:Confidence limits for"},{"p":"a","k":"t","x":4.97,"y":0.49,"t":"estimation of Lₘ₁₁"},{"p":"a","k":"t","x":5.2,"y":0.438,"t":"Confidence"},{"p":"a","k":"t","x":5.2,"y":0.39,"t":"coeff. 0.95"},{"p":"a","k":"t","x":23.8,"y":0.323,"t":"Lᵤ"},{"p":"a","k":"t","x":23.8,"y":0.074,"t":"Lₗ"},
{"p":"b","k":"t","x":1.51,"y":0.83,"t":"(b) 18 GHz"},{"p":"b","k":"e","x":1.08,"y":0.73,"t":"Lₘ₁₈=0.0168ρₛ+0.0295"},{"p":"b","k":"t","x":13.4,"y":0.735,"t":"Correlation"},{"p":"b","k":"t","x":13.4,"y":0.687,"t":"coeff. 0.803"},{"p":"b","k":"t","x":1.35,"y":0.607,"t":"Lᵤ,Lₗ:Confidence limits for"},{"p":"b","k":"t","x":4.16,"y":0.559,"t":"estimation of Lₘ₁₈"},{"p":"b","k":"t","x":4.37,"y":0.501,"t":"Confidence"},{"p":"b","k":"t","x":4.37,"y":0.453,"t":"coeff. 0.95"},{"p":"b","k":"t","x":23.6,"y":0.62,"t":"Lᵤ"},{"p":"b","k":"t","x":23.6,"y":0.24,"t":"Lₗ"},
{"p":"c","k":"t","x":1.36,"y":0.932,"t":"(c) 35 GHz"},{"p":"c","k":"e","x":1.66,"y":0.83,"t":"Lₘ₃₅=0.0223ρₛ+0.2072"},{"p":"c","k":"t","x":4.9,"y":0.757,"t":"Correlation"},{"p":"c","k":"t","x":4.9,"y":0.703,"t":"coeff. 0.843"},{"p":"c","k":"t","x":10.6,"y":0.252,"t":"Lᵤ,Lₗ:Confidence limits for"},{"p":"c","k":"t","x":13.5,"y":0.198,"t":"estimation of Lₘ₃₅"},{"p":"c","k":"t","x":13.5,"y":0.134,"t":"Confidence"},{"p":"c","k":"t","x":13.5,"y":0.08,"t":"coeff. 0.95"},{"p":"c","k":"t","x":23.5,"y":0.932,"t":"Lᵤ"},{"p":"c","k":"t","x":23.5,"y":0.537,"t":"Lₗ"},
{"p":"d","k":"t","x":1.08,"y":2.735,"t":"(d) 48 GHz"},{"p":"d","k":"e","x":2.8,"y":2.37,"t":"Lₘ₄₈=0.0241ρₛ+0.9523"},{"p":"d","k":"t","x":6.2,"y":2.13,"t":"Correlation"},{"p":"d","k":"t","x":6.2,"y":1.97,"t":"coeff. 0.608"},{"p":"d","k":"t","x":10.8,"y":0.75,"t":"Lᵤ,Lₗ:Confidence limits for"},{"p":"d","k":"t","x":13.7,"y":0.59,"t":"estimation of Lₘ₄₈"},{"p":"d","k":"t","x":13.7,"y":0.39,"t":"Confidence"},{"p":"d","k":"t","x":13.7,"y":0.23,"t":"coeff. 0.95"},{"p":"d","k":"t","x":23.2,"y":1.835,"t":"Lᵤ"},{"p":"d","k":"t","x":23.2,"y":1.11,"t":"Lₗ"}
]
},
"columns":2,
"spacing":{"row":62,"column":50},
"bounds":"flush",
"concat":[
{"width":458,"height":377,
 "encoding":{
  "x":{"field":"x","type":"quantitative","scale":{"domain":[0,25],"nice":false,"zero":false},"axis":{"title":"Surface water vapor density  ρₛ (g/m³)","titlePadding":2,"values":[0,5,10,15,20,25],"format":"d","labelPadding":2}},
  "y":{"field":"y","type":"quantitative","scale":{"domain":[0,0.905],"nice":false,"zero":false},"axis":{"title":["Measured zenith atmospheric   Lₘ₁₁ (dB)","attenuation"],"titleAnchor":"start","titleLineHeight":19,"titlePadding":2,"values":[0,0.2,0.4,0.6,0.8],"labelExpr":"datum.value==0 ? '0' : replace(format(datum.value,'.1~f'),'0.','.')","labelPadding":2}}
 },
 "layer":[
  {"data":{"name":"pts"},"transform":[{"filter":"datum.p=='a'"}],"mark":{"type":"circle","size":24,"color":"black","opacity":1}},
  {"data":{"name":"lines"},"transform":[{"filter":"datum.p=='a'"}],"mark":{"type":"line","color":"black","strokeWidth":1.6,"clip":true},"encoding":{"detail":{"field":"k"},"strokeDash":{"field":"k","type":"nominal","scale":{"domain":["c","u","l"],"range":[[1,0],[95,6,8,6],[95,6,8,6]]},"legend":null}}},
  {"data":{"name":"notes"},"transform":[{"filter":"datum.p=='a' && datum.k=='t'"}],"mark":{"type":"text","align":"left","baseline":"middle","font":"DejaVu Sans Mono","fontSize":16},"encoding":{"text":{"field":"t"}}},
  {"data":{"name":"notes"},"transform":[{"filter":"datum.p=='a' && datum.k=='e'"}],"mark":{"type":"text","align":"left","baseline":"middle","font":"DejaVu Sans Condensed","fontSize":19},"encoding":{"text":{"field":"t"}}},
  {"data":{"name":"xt"},"mark":{"type":"tick","orient":"vertical","color":"black","thickness":1.5,"clip":true,"opacity":1},"encoding":{"x":{"field":"v","type":"quantitative"},"y":{"datum":0,"type":"quantitative"},"size":{"field":"l","type":"nominal","scale":{"domain":["min","mid","maj"],"range":[10,16,20]},"legend":null}}},
  {"data":{"name":"yt"},"transform":[{"filter":"datum.g=='ab'"}],"mark":{"type":"tick","orient":"horizontal","color":"black","thickness":1.5,"clip":true,"opacity":1},"encoding":{"y":{"field":"v","type":"quantitative"},"x":{"datum":0,"type":"quantitative"},"size":{"field":"l","type":"nominal","scale":{"domain":["min","mid","maj"],"range":[10,16,24]},"legend":null}}}
 ]
},
{"width":462,"height":377,
 "encoding":{
  "x":{"field":"x","type":"quantitative","scale":{"domain":[0,25],"nice":false,"zero":false},"axis":{"title":"Surface water vapor density  ρₛ (g/m³)","titlePadding":2,"values":[0,5,10,15,20,25],"format":"d","labelPadding":2}},
  "y":{"field":"y","type":"quantitative","scale":{"domain":[0,0.905],"nice":false,"zero":false},"axis":{"title":["Measured zenith atmospheric   Lₘ₁₈ (dB)","attenuation"],"titleAnchor":"start","titleLineHeight":19,"titlePadding":2,"values":[0,0.2,0.4,0.6,0.8],"labelExpr":"datum.value==0 ? '0' : replace(format(datum.value,'.1~f'),'0.','.')","labelPadding":2}}
 },
 "layer":[
  {"data":{"name":"pts"},"transform":[{"filter":"datum.p=='b'"}],"mark":{"type":"circle","size":24,"color":"black","opacity":1}},
  {"data":{"name":"lines"},"transform":[{"filter":"datum.p=='b'"}],"mark":{"type":"line","color":"black","strokeWidth":1.6,"clip":true},"encoding":{"detail":{"field":"k"},"strokeDash":{"field":"k","type":"nominal","scale":{"domain":["c","u","l"],"range":[[1,0],[95,6,8,6],[95,6,8,6]]},"legend":null}}},
  {"data":{"name":"notes"},"transform":[{"filter":"datum.p=='b' && datum.k=='t'"}],"mark":{"type":"text","align":"left","baseline":"middle","font":"DejaVu Sans Mono","fontSize":16},"encoding":{"text":{"field":"t"}}},
  {"data":{"name":"notes"},"transform":[{"filter":"datum.p=='b' && datum.k=='e'"}],"mark":{"type":"text","align":"left","baseline":"middle","font":"DejaVu Sans Condensed","fontSize":19},"encoding":{"text":{"field":"t"}}},
  {"data":{"name":"xt"},"mark":{"type":"tick","orient":"vertical","color":"black","thickness":1.5,"clip":true,"opacity":1},"encoding":{"x":{"field":"v","type":"quantitative"},"y":{"datum":0,"type":"quantitative"},"size":{"field":"l","type":"nominal","scale":{"domain":["min","mid","maj"],"range":[10,16,20]},"legend":null}}},
  {"data":{"name":"yt"},"transform":[{"filter":"datum.g=='ab'"}],"mark":{"type":"tick","orient":"horizontal","color":"black","thickness":1.5,"clip":true,"opacity":1},"encoding":{"y":{"field":"v","type":"quantitative"},"x":{"datum":0,"type":"quantitative"},"size":{"field":"l","type":"nominal","scale":{"domain":["min","mid","maj"],"range":[10,16,24]},"legend":null}}}
 ]
},
{"width":458,"height":372,
 "encoding":{
  "x":{"field":"x","type":"quantitative","scale":{"domain":[0,25],"nice":false,"zero":false},"axis":{"title":"Surface water vapor density  ρₛ (g/m³)","titlePadding":2,"values":[0,5,10,15,20,25],"format":"d","labelPadding":2}},
  "y":{"field":"y","type":"quantitative","scale":{"domain":[0,1],"nice":false,"zero":false},"axis":{"title":["Measured zenith atmospheric   Lₘ₃₅ (dB)","attenuation"],"titleAnchor":"start","titleLineHeight":19,"titlePadding":2,"values":[0,0.2,0.4,0.6,0.8,1],"labelExpr":"datum.value==0 ? '0' : replace(format(datum.value,'.1~f'),'0.','.')","labelPadding":2}}
 },
 "layer":[
  {"data":{"name":"pts"},"transform":[{"filter":"datum.p=='c'"}],"mark":{"type":"circle","size":24,"color":"black","opacity":1}},
  {"data":{"name":"lines"},"transform":[{"filter":"datum.p=='c'"}],"mark":{"type":"line","color":"black","strokeWidth":1.6,"clip":true},"encoding":{"detail":{"field":"k"},"strokeDash":{"field":"k","type":"nominal","scale":{"domain":["c","u","l"],"range":[[1,0],[95,6,8,6],[95,6,8,6]]},"legend":null}}},
  {"data":{"name":"notes"},"transform":[{"filter":"datum.p=='c' && datum.k=='t'"}],"mark":{"type":"text","align":"left","baseline":"middle","font":"DejaVu Sans Mono","fontSize":16},"encoding":{"text":{"field":"t"}}},
  {"data":{"name":"notes"},"transform":[{"filter":"datum.p=='c' && datum.k=='e'"}],"mark":{"type":"text","align":"left","baseline":"middle","font":"DejaVu Sans Condensed","fontSize":19},"encoding":{"text":{"field":"t"}}},
  {"data":{"name":"xt"},"mark":{"type":"tick","orient":"vertical","color":"black","thickness":1.5,"clip":true,"opacity":1},"encoding":{"x":{"field":"v","type":"quantitative"},"y":{"datum":0,"type":"quantitative"},"size":{"field":"l","type":"nominal","scale":{"domain":["min","mid","maj"],"range":[10,16,20]},"legend":null}}},
  {"data":{"name":"yt"},"transform":[{"filter":"datum.g=='c'"}],"mark":{"type":"tick","orient":"horizontal","color":"black","thickness":1.5,"clip":true,"opacity":1},"encoding":{"y":{"field":"v","type":"quantitative"},"x":{"datum":0,"type":"quantitative"},"size":{"field":"l","type":"nominal","scale":{"domain":["min","mid","maj"],"range":[10,16,24]},"legend":null}}}
 ]
},
{"width":462,"height":372,
 "encoding":{
  "x":{"field":"x","type":"quantitative","scale":{"domain":[0,25],"nice":false,"zero":false},"axis":{"title":"Surface water vapor density  ρₛ (g/m³)","titlePadding":2,"values":[0,5,10,15,20,25],"format":"d","labelPadding":2}},
  "y":{"field":"y","type":"quantitative","scale":{"domain":[0,3],"nice":false,"zero":false},"axis":{"title":["Measured zenith atmospheric   Lₘ₄₈ (dB)","attenuation"],"titleAnchor":"start","titleLineHeight":19,"titlePadding":2,"values":[0,1,2,3],"format":"d","labelPadding":2}}
 },
 "layer":[
  {"data":{"name":"pts"},"transform":[{"filter":"datum.p=='d'"}],"mark":{"type":"circle","size":24,"color":"black","opacity":1}},
  {"data":{"name":"lines"},"transform":[{"filter":"datum.p=='d'"}],"mark":{"type":"line","color":"black","strokeWidth":1.6,"clip":true},"encoding":{"detail":{"field":"k"},"strokeDash":{"field":"k","type":"nominal","scale":{"domain":["c","u","l"],"range":[[1,0],[95,6,8,6],[95,6,8,6]]},"legend":null}}},
  {"data":{"name":"notes"},"transform":[{"filter":"datum.p=='d' && datum.k=='t'"}],"mark":{"type":"text","align":"left","baseline":"middle","font":"DejaVu Sans Mono","fontSize":16},"encoding":{"text":{"field":"t"}}},
  {"data":{"name":"notes"},"transform":[{"filter":"datum.p=='d' && datum.k=='e'"}],"mark":{"type":"text","align":"left","baseline":"middle","font":"DejaVu Sans Condensed","fontSize":19},"encoding":{"text":{"field":"t"}}},
  {"data":{"name":"xt"},"mark":{"type":"tick","orient":"vertical","color":"black","thickness":1.5,"clip":true,"opacity":1},"encoding":{"x":{"field":"v","type":"quantitative"},"y":{"datum":0,"type":"quantitative"},"size":{"field":"l","type":"nominal","scale":{"domain":["min","mid","maj"],"range":[10,16,20]},"legend":null}}},
  {"data":{"name":"yt"},"transform":[{"filter":"datum.g=='d'"}],"mark":{"type":"tick","orient":"horizontal","color":"black","thickness":1.5,"clip":true,"opacity":1},"encoding":{"y":{"field":"v","type":"quantitative"},"x":{"datum":0,"type":"quantitative"},"size":{"field":"l","type":"nominal","scale":{"domain":["min","mid","maj"],"range":[10,16,24]},"legend":null}}}
 ]
}
]
}
